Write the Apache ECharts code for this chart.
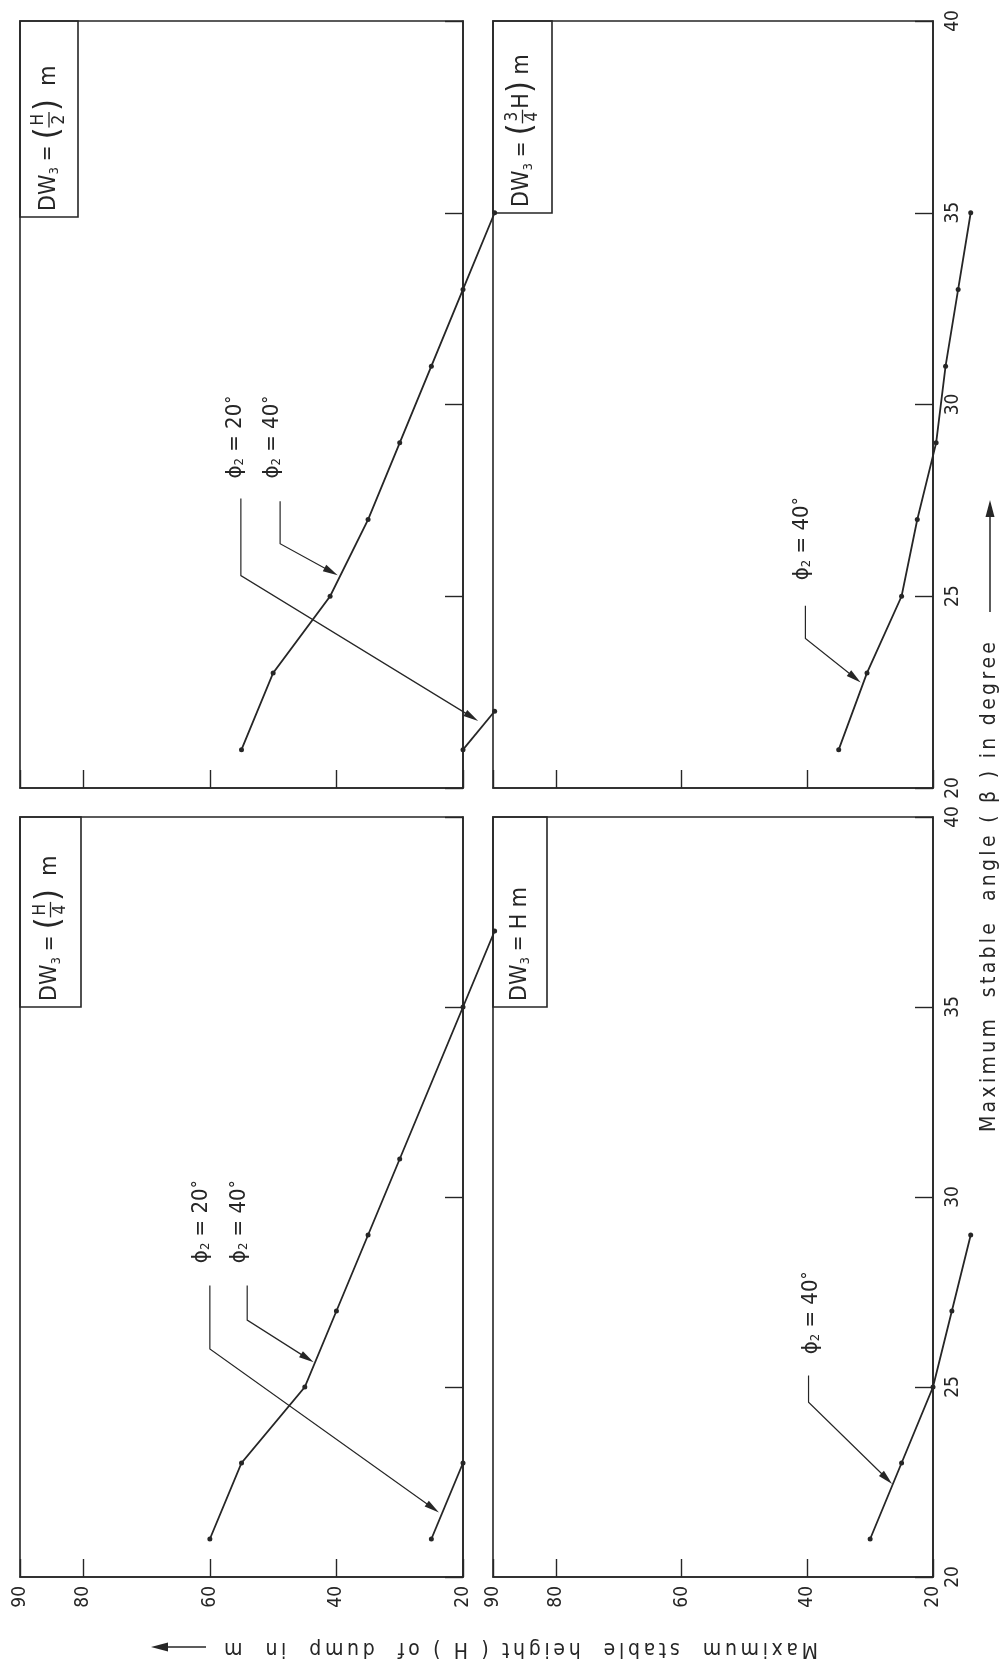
<!DOCTYPE html>
<html>
<head>
<meta charset="utf-8">
<script src="https://cdn.jsdelivr.net/npm/echarts@6/dist/echarts.min.js"></script>
<style>
  html, body { margin: 0; padding: 0; background: #fff; }
  #main { width: 1005px; height: 1669px; }
</style>
</head>
<body>
<div id="main"></div>
<script>
var FONT = '"DejaVu Sans Condensed","Liberation Sans Narrow","DejaVu Sans",sans-serif';
var INK = '#262626';

// tick values
var hTicks = [20, 40, 60, 80, 90];   // height (m)
var angTicks = [20, 25, 30, 35, 40]; // angle (deg)

// DW3 = (H/2) m
var angH2_40 = [21, 23, 25, 27, 29, 31, 33, 35];
var hH2_40   = [55, 50, 41, 35, 30, 25, 20, 15];
var angH2_20 = [21, 22];
var hH2_20   = [20, 15];
// DW3 = (3/4 H) m
var ang3H4_40 = [21, 23, 25, 27, 29, 31, 33, 35];
var h3H4_40   = [35, 30.5, 25, 22.5, 19.5, 18, 16, 14];
// DW3 = (H/4) m
var angH4_40 = [21, 23, 25, 27, 29, 31, 35, 37];
var hH4_40   = [60, 55, 45, 40, 35, 30, 20, 15];
var angH4_20 = [21, 23];
var hH4_20   = [25, 20];
// DW3 = H m
var angH_40 = [21, 23, 25, 27, 29];
var hH_40   = [30, 25, 20, 17, 14];

// leader lines [height, angle]
var leadH2_20 = [[55.1, 27.55], [55.1, 25.54], [17.6, 21.75]];
var leadH2_40 = [[48.9, 27.48], [48.9, 26.37], [39.8, 25.55]];
var lead3H4_40 = [[40.3, 24.75], [40.3, 23.9], [31.5, 22.75]];
var leadH4_20 = [[60, 27.67], [60, 26.0], [23.8, 21.7]];
var leadH4_40 = [[54.1, 27.67], [54.1, 26.76], [43.6, 25.65]];
var leadH_40 = [[39.8, 25.3], [39.8, 24.6], [26.5, 22.45]];

// panel layout (the figure is turned a quarter turn)
var panels = [
  { left: 20,  top: 21,  width: 443, height: 767, hLab: false, aLab: false, box: [196, 58] },
  { left: 493, top: 21,  width: 440, height: 767, hLab: false, aLab: true,  box: [192, 59] },
  { left: 20,  top: 817, width: 443, height: 760, hLab: true,  aLab: false, box: [190, 61] },
  { left: 493, top: 817, width: 440, height: 760, hLab: true,  aLab: true,  box: [190, 54] }
];

var boxText = [
  [{t: 'DW', s: 23}, {t: '3', s: 13, dy: 6}, {t: ' = ', s: 21}, {t: '(', s: 34}, {frac: ['H', '2'], s: 17}, {t: ')', s: 34}, {t: '  m', s: 23}],
  [{t: 'DW', s: 23}, {t: '3', s: 13, dy: 6}, {t: ' = ', s: 21}, {t: '(', s: 34}, {frac: ['3', '4'], s: 17}, {t: 'H', s: 23}, {t: ')', s: 34}, {t: ' m', s: 23}],
  [{t: 'DW', s: 23}, {t: '3', s: 13, dy: 6}, {t: ' = ', s: 21}, {t: '(', s: 34}, {frac: ['H', '4'], s: 17}, {t: ')', s: 34}, {t: '  m', s: 23}],
  [{t: 'DW', s: 23}, {t: '3', s: 13, dy: 6}, {t: ' = ', s: 21}, {t: 'H', s: 23}, {t: ' m', s: 23}]
];

var curves = [
  { p: 0, h: hH2_40,  a: angH2_40,  lead: leadH2_40,  tag: [50.2, 29.15], phi: '40' },
  { p: 0, h: hH2_20,  a: angH2_20,  lead: leadH2_20,  tag: [56.0, 29.15], phi: '20' },
  { p: 1, h: h3H4_40, a: ang3H4_40, lead: lead3H4_40, tag: [40.8, 26.5],  phi: '40' },
  { p: 2, h: hH4_40,  a: angH4_40,  lead: leadH4_40,  tag: [55.3, 29.35], phi: '40' },
  { p: 2, h: hH4_20,  a: angH4_20,  lead: leadH4_20,  tag: [61.4, 29.35], phi: '20' },
  { p: 3, h: hH_40,   a: angH_40,   lead: leadH_40,   tag: [39.4, 26.95], phi: '40' }
];

function pts(h, a) {
  return h.map(function (v, i) { return [v, a[i]]; });
}

var ctx = document.createElement('canvas').getContext('2d');
function tw(s, size) {
  ctx.font = size + 'px ' + FONT;
  return ctx.measureText(s).width;
}

var chart = echarts.init(document.getElementById('main'));

var grids = [], xAxes = [], yAxes = [], series = [];
panels.forEach(function (p, i) {
  grids.push({
    left: p.left, top: p.top, width: p.width, height: p.height,
    show: true, borderColor: INK, borderWidth: 1.6, backgroundColor: 'transparent',
    containLabel: false, outerBoundsMode: 'none'
  });
  xAxes.push({
    gridIndex: i, type: 'value', min: 20, max: 90, inverse: true, position: 'bottom',
    axisLine: { show: true, onZero: false, lineStyle: { color: INK, width: 1.6 } },
    axisTick: { show: true, inside: true, length: 18, customValues: hTicks, lineStyle: { color: INK, width: 1.4 } },
    axisLabel: {
      show: p.hLab, rotate: 90, margin: 9, customValues: hTicks,
      showMinLabel: true, showMaxLabel: true,
      fontFamily: FONT, fontSize: 19, color: INK
    },
    splitLine: { show: false }
  });
  yAxes.push({
    gridIndex: i, type: 'value', min: 20, max: 40, position: 'right',
    axisLine: { show: true, onZero: false, lineStyle: { color: INK, width: 1.6 } },
    axisTick: { show: true, inside: true, length: 18, customValues: angTicks, lineStyle: { color: INK, width: 1.4 } },
    axisLabel: {
      show: p.aLab, rotate: 90, margin: 11, customValues: angTicks,
      showMinLabel: true, showMaxLabel: true,
      fontFamily: FONT, fontSize: 19, color: INK
    },
    splitLine: { show: false }
  });
});

// curves run past the frame, so the polyline is a 'lines' series (no clipping)
curves.forEach(function (c) {
  series.push({
    type: 'lines', coordinateSystem: 'cartesian2d', xAxisIndex: c.p, yAxisIndex: c.p,
    polyline: true, clip: false, silent: true, z: 2,
    data: [{ coords: pts(c.h, c.a) }],
    lineStyle: { color: INK, width: 1.8, opacity: 1, curveness: 0 }
  });
  series.push({
    type: 'scatter', xAxisIndex: c.p, yAxisIndex: c.p,
    data: pts(c.h, c.a),
    symbol: 'circle', symbolSize: 5, clip: false, silent: true, z: 3,
    itemStyle: { color: INK, opacity: 1 }
  });
});

chart.setOption({
  animation: false,
  backgroundColor: '#fff',
  grid: grids,
  xAxis: xAxes,
  yAxis: yAxes,
  series: series
});

// annotations
var els = [];

curves.forEach(function (c) {
  var px = c.lead.map(function (d) { return chart.convertToPixel({ gridIndex: c.p }, d); });
  var n = px.length, tip = px[n - 1], prev = px[n - 2];
  var dx = tip[0] - prev[0], dy = tip[1] - prev[1];
  var L = Math.sqrt(dx * dx + dy * dy), ux = dx / L, uy = dy / L;
  var al = 15, aw = 3.6;
  var bx = tip[0] - ux * al, by = tip[1] - uy * al;
  els.push({
    type: 'polyline', silent: true,
    shape: { points: px.slice(0, n - 1).concat([[bx + ux * 3, by + uy * 3]]) },
    style: { stroke: INK, lineWidth: 1.2, fill: 'none' }
  });
  els.push({
    type: 'polygon', silent: true,
    shape: { points: [tip, [bx - uy * aw, by + ux * aw], [bx + uy * aw, by - ux * aw]] },
    style: { fill: INK }
  });
  var tp = chart.convertToPixel({ gridIndex: c.p }, c.tag);
  els.push({
    type: 'text', silent: true, x: tp[0], y: tp[1], rotation: Math.PI / 2,
    style: {
      text: '{a|ϕ}{b|2}{a| = ' + c.phi + '}{c|°}',
      align: 'center', verticalAlign: 'middle',
      rich: {
        a: { fontFamily: FONT, fontSize: 22, fill: INK },
        b: { fontFamily: FONT, fontSize: 13, fill: INK, verticalAlign: 'bottom' },
        c: { fontFamily: FONT, fontSize: 18, fill: INK, verticalAlign: 'top' }
      }
    }
  });
});

function boxChildren(bl, bw, tokens) {
  var kids = [{
    type: 'rect', shape: { x: 0, y: 0, width: bl, height: bw },
    style: { fill: 'none', stroke: INK, lineWidth: 1.6 }
  }];
  var x = 6, cy = bw / 2;
  tokens.forEach(function (tk) {
    if (tk.frac) {
      var w = Math.max(tw(tk.frac[0], tk.s), tw(tk.frac[1], tk.s)) + 4;
      kids.push({ type: 'text', x: x + w / 2, y: cy - 1.5,
        style: { text: tk.frac[0], fontFamily: FONT, fontSize: tk.s, fill: INK, align: 'center', verticalAlign: 'bottom' } });
      kids.push({ type: 'line', shape: { x1: x, y1: cy, x2: x + w, y2: cy },
        style: { stroke: INK, lineWidth: 1.3 } });
      kids.push({ type: 'text', x: x + w / 2, y: cy + 2,
        style: { text: tk.frac[1], fontFamily: FONT, fontSize: tk.s, fill: INK, align: 'center', verticalAlign: 'top' } });
      x += w + 1;
    } else {
      kids.push({ type: 'text', x: x, y: cy + (tk.dy || 0),
        style: { text: tk.t, fontFamily: FONT, fontSize: tk.s, fill: INK, align: 'left', verticalAlign: 'middle' } });
      x += tw(tk.t, tk.s);
    }
  });
  return kids;
}

panels.forEach(function (p, i) {
  els.push({
    type: 'group', silent: true,
    x: p.left, y: p.top + p.box[0], rotation: Math.PI / 2,
    children: boxChildren(p.box[0], p.box[1], boxText[i])
  });
});

// letter-spaced title stretched to a given length
function spaced(str, size, len) {
  var natural = 0, i;
  for (i = 0; i < str.length; i++) natural += tw(str[i], size);
  var gap = (len - natural) / (str.length - 1);
  var kids = [], x = 0;
  for (i = 0; i < str.length; i++) {
    kids.push({ type: 'text', x: x, y: 0,
      style: { text: str[i], fontFamily: FONT, fontSize: size, fill: INK, align: 'left', verticalAlign: 'middle' } });
    x += tw(str[i], size) + gap;
  }
  return kids;
}

els.push({
  type: 'group', silent: true, x: 990, y: 1132, rotation: Math.PI / 2,
  children: spaced('Maximum  stable  angle ( β ) in degree', 21, 490)
});
els.push({ type: 'line', silent: true, shape: { x1: 990, y1: 612, x2: 990, y2: 512 }, style: { stroke: INK, lineWidth: 1.5 } });
els.push({ type: 'polygon', silent: true, shape: { points: [[990, 500], [985.5, 517], [994.5, 517]] }, style: { fill: INK } });

els.push({
  type: 'group', silent: true, x: 818, y: 1648, rotation: Math.PI,
  children: spaced('Maximum  stable  height ( H ) of  dump  in  m', 21, 594)
});
els.push({ type: 'line', silent: true, shape: { x1: 206, y1: 1647, x2: 163, y2: 1647 }, style: { stroke: INK, lineWidth: 1.5 } });
els.push({ type: 'polygon', silent: true, shape: { points: [[151, 1647], [168, 1642.5], [168, 1651.5]] }, style: { fill: INK } });

chart.setOption({ graphic: { elements: els } });
</script>
</body>
</html>
